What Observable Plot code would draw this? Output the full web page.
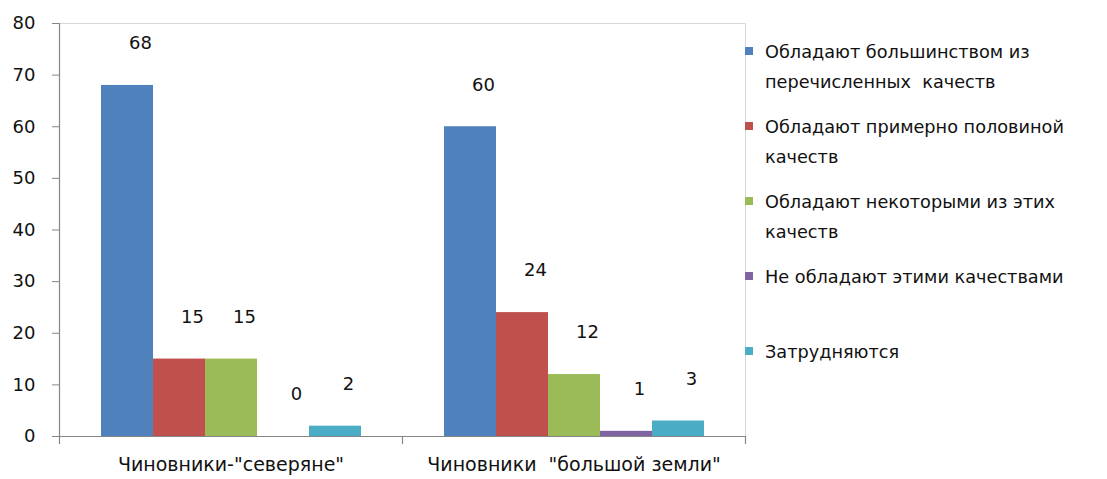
<!DOCTYPE html>
<html>
<head>
<meta charset="utf-8">
<script src="https://cdn.jsdelivr.net/npm/d3@7"></script>
<script src="https://cdn.jsdelivr.net/npm/@observablehq/plot@0.6"></script>
<style>
  html, body { margin: 0; padding: 0; background: #fff; }
  #wrap { position: relative; width: 1107px; height: 479px; font-family: "DejaVu Sans", Verdana, sans-serif; }
  #legend { position: absolute; left: 745px; top: 37px; width: 362px; }
  .item { display: flex; align-items: flex-start; height: 75px; }
  .sw { width: 8px; height: 8px; margin-top: 10px; flex: none; }
  .lab { margin-left: 12px; font-size: 17.7px; line-height: 30px; color: #111; white-space: nowrap; }
</style>
</head>
<body>
<div id="wrap"><div id="chart"></div><div id="legend"></div></div>
<script>
const groups = ['Чиновники-"северяне"', 'Чиновники\u00A0 "большой земли"'];
const series = [
  "Обладают большинством из перечисленных  качеств",
  "Обладают примерно половиной качеств",
  "Обладают некоторыми из этих качеств",
  "Не обладают этими качествами",
  "Затрудняются"
];
const legendLines = [
  ["Обладают большинством из", "перечисленных  качеств"],
  ["Обладают примерно половиной", "качеств"],
  ["Обладают некоторыми из этих", "качеств"],
  ["Не обладают этими качествами"],
  ["Затрудняются"]
];
const valuesNorth = [68, 15, 15, 0, 2];
const valuesMainland = [60, 24, 12, 1, 3];
const colors = ["#4F81BD", "#C0504D", "#9BBB59", "#8064A2", "#4BACC6"];
const yTicks = [0, 10, 20, 30, 40, 50, 60, 70, 80];

const data = [];
series.forEach((s, i) => data.push({group: groups[0], series: s, value: valuesNorth[i]}));
series.forEach((s, i) => data.push({group: groups[1], series: s, value: valuesMainland[i]}));

const W = 1107, H = 479, mL = 59, mR = 362, mT = 23, mB = 43;
const innerH = H - mT - mB;
const axisGray = "#868686";
const fs = 18;

const chart = Plot.plot({
  width: W, height: H,
  marginLeft: mL, marginRight: mR, marginTop: mT, marginBottom: mB,
  style: {fontFamily: '"DejaVu Sans", Verdana, sans-serif', fontSize: fs + "px", color: "#111", background: "#fff"},
  fx: {domain: groups, padding: 0, label: null},
  x: {domain: series, paddingInner: 0, paddingOuter: 0.745, axis: null},
  y: {domain: [0, 80], label: null},
  color: {domain: series, range: colors},
  marks: [
    Plot.frame({facet: "super", stroke: "#d9d9d9"}),
    Plot.barY(data, {fx: "group", x: "series", y: "value", fill: "series"}),
    Plot.ruleY([0], {stroke: axisGray, strokeWidth: 1.2}),
    Plot.frame({facet: "super", anchor: "left", stroke: axisGray, strokeWidth: 1.2, insetBottom: -7}),
    Plot.frame({anchor: "right", stroke: axisGray, strokeWidth: 1.2, insetTop: innerH, insetBottom: -7}),
    Plot.axisY({ticks: yTicks, tickSize: 7, tickPadding: 17, stroke: axisGray, fill: "#111", fontSize: fs + "px", label: null}),
    Plot.axisFx({anchor: "bottom", tickSize: 0, tickPadding: 21, label: null, fontSize: "19px", fill: "#111"}),
    Plot.text(data, {fx: "group", x: "series", y: "value", text: d => String(d.value), dy: -42, dx: 13, fontSize: fs, fill: "#111"})
  ]
});
document.getElementById("chart").appendChild(chart);

const legend = document.getElementById("legend");
legendLines.forEach((lines, i) => {
  const item = document.createElement("div");
  item.className = "item";
  const sw = document.createElement("div");
  sw.className = "sw";
  sw.style.background = colors[i];
  const lab = document.createElement("div");
  lab.className = "lab";
  lab.innerHTML = lines.map(l => l.replace(/ {2}/g, " &nbsp;")).join("<br>");
  item.appendChild(sw);
  item.appendChild(lab);
  legend.appendChild(item);
});
</script>
</body>
</html>
